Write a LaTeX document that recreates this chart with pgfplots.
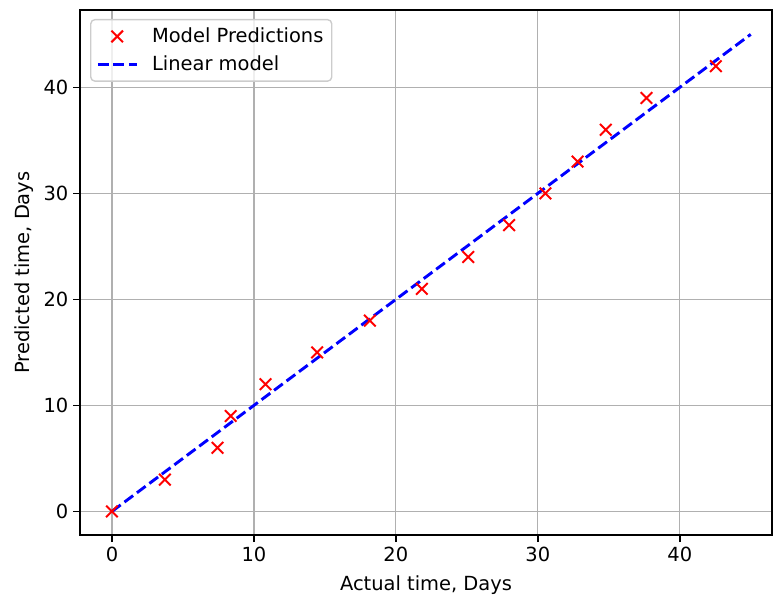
\documentclass[border=0pt]{standalone}
\usepackage{pgfplots}
\pgfplotsset{compat=1.18}
\usepackage{fontspec}
\setmainfont{DejaVu Sans}
\pgfplotsset{
  lineleg/.style={legend image code/.code={\draw[##1] (0pt,0pt) -- (28pt,0pt);}},
  markleg/.style={legend image code/.code={\draw[##1] plot coordinates {(14pt,0pt)};}},
}
\begin{document}
\begin{tikzpicture}
\begin{axis}[
  scale only axis,
  width=498pt, height=378pt,
  xmin=-2.25, xmax=46.5,
  ymin=-2.25, ymax=47.3,
  xtick={0,10,20,30,40},
  ytick={0,10,20,30,40},
  grid=major,
  major grid style={color=black!31, line width=0.9pt},
  axis line style={line width=1.1pt},
  tick style={black, line width=1.1pt},
  tick align=outside,
  major tick length=4.9pt,
  xtick pos=bottom, ytick pos=left,
  /pgf/number format/assume math mode=true,
  ticklabel style={font=\fontsize{14}{16}\selectfont},
  xlabel={Actual time, Days},
  ylabel={Predicted time, Days},
  label style={font=\fontsize{14}{16}\selectfont},
  xlabel style={yshift=-3pt},
  legend cell align=left,
  legend style={at={(0.0145,0.983)}, anchor=north west, draw=black!20, line width=1pt, rounded corners=3pt, fill=white, fill opacity=0.8, text opacity=1, font=\fontsize{14}{17}\selectfont, row sep=4pt, column sep=8pt, inner xsep=4pt, inner ysep=4pt},
]
\addplot[only marks, mark=x, mark size=5.9pt, red, line width=1.4pt, markleg]
  coordinates {
  (0,0) (3.73,3) (7.44,6) (8.36,9) (10.82,12) (14.46,15) (18.17,18) (21.83,21)
  (25.1,24) (27.98,27) (30.54,30) (32.8,33) (34.79,36) (37.65,39) (42.54,42)
  };
\addlegendentry{Model Predictions}
\addplot[blue, line width=2.1pt, dash pattern=on 7.8pt off 3.4pt, lineleg] coordinates {(0,0) (45,45)};
\addlegendentry{Linear model}
\end{axis}
\pgfresetboundingbox
\path (current axis.south west) ++(-57.6pt,-46pt) coordinate (bl);
\path (current axis.north east) ++(0.7pt,7.2pt) coordinate (tr);
\path (bl) rectangle (tr);
\end{tikzpicture}
\end{document}
